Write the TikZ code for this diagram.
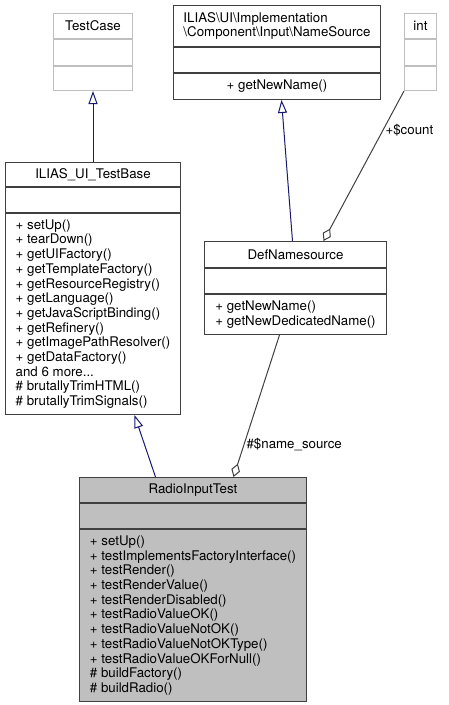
\documentclass[tikz,border=0pt]{standalone}
\usepackage{fontspec}
\setmainfont{TeX Gyre Heros}
\usetikzlibrary{positioning,arrows.meta}
\definecolor{edgegray}{HTML}{404040}
\definecolor{boxgray}{HTML}{BFBFBF}
\definecolor{inhblue}{HTML}{191970}
\tikzset{
  part/.style={draw=edgegray, line width=1pt, inner sep=0pt, minimum width=#1, align=left},
  faint/.style={draw=boxgray},
  inh/.style={draw=inhblue, line width=1pt, -{Triangle[fill=white, length=13pt, width=9pt]}},
  agg/.style={draw=edgegray, line width=1pt, {Diamond[fill=white, length=14pt, width=9pt]}-},
  lbl/.style={inner sep=2pt, anchor=west}
}
\begin{document}
\begin{tikzpicture}[x=1pt, y=-1pt, font=\fontsize{13.3}{14.7}\selectfont]
  \useasboundingbox (0,0) rectangle (448,705);
  % TestCase
  \node[part=79pt, faint, minimum height=25pt, anchor=north west] (tcTitle) at (53,13) {TestCase};
  \node[part=79pt, faint, minimum height=26pt, below=0pt of tcTitle] (tcAttr) {};
  \node[part=79pt, faint, minimum height=24pt, below=0pt of tcAttr] (tcMeth) {};
  % NameSource
  \node[part=207pt, minimum height=41pt, anchor=north west] (nsTitle) at (173,5)
    {ILIAS\textbackslash UI\textbackslash Implementation\\\textbackslash Component\textbackslash Input\textbackslash NameSource};
  \node[part=207pt, minimum height=25pt, below=0pt of nsTitle] (nsAttr) {};
  \node[part=207pt, minimum height=26pt, below=0pt of nsAttr] (nsMeth) {+ getNewName()};
  % int
  \node[part=32pt, faint, minimum height=25pt, anchor=north west] (intTitle) at (404,13) {int};
  \node[part=32pt, faint, minimum height=26pt, below=0pt of intTitle] (intAttr) {};
  \node[part=32pt, faint, minimum height=24pt, below=0pt of intAttr] (intMeth) {};
  % ILIAS_UI_TestBase
  \node[part=175pt, minimum height=24pt, anchor=north west] (tbTitle) at (5,162) {ILIAS\_UI\_TestBase};
  \node[part=175pt, minimum height=25pt, below=0pt of tbTitle] (tbAttr) {};
  \node[part=175pt, minimum height=201pt, below=0pt of tbAttr] (tbMeth)
    {+ setUp()\\+ tearDown()\\+ getUIFactory()\\+ getTemplateFactory()\\
     + getResourceRegistry()\\+ getLanguage()\\+ getJavaScriptBinding()\\
     + getRefinery()\\+ getImagePathResolver()\\+ getDataFactory()\\
     and 6 more...\\\# brutallyTrimHTML()\\\# brutallyTrimSignals()};
  % DefNamesource
  \node[part=182pt, minimum height=26pt, anchor=north west] (dnTitle) at (204,241) {DefNamesource};
  \node[part=182pt, minimum height=25pt, below=0pt of dnTitle] (dnAttr) {};
  \node[part=182pt, minimum height=40pt, below=0pt of dnAttr] (dnMeth)
    {+ getNewName()\\+ getNewDedicatedName()};
  % RadioInputTest
  \node[part=227pt, fill=boxgray, minimum height=25pt, anchor=north west] (rtTitle) at (79,477) {RadioInputTest};
  \node[part=227pt, fill=boxgray, minimum height=25pt, below=0pt of rtTitle] (rtAttr) {};
  \node[part=227pt, fill=boxgray, minimum height=172pt, below=0pt of rtAttr] (rtMeth)
    {+ setUp()\\+ testImplementsFactoryInterface()\\+ testRender()\\
     + testRenderValue()\\+ testRenderDisabled()\\+ testRadioValueOK()\\
     + testRadioValueNotOK()\\+ testRadioValueNotOKType()\\
     + testRadioValueOKForNull()\\\# buildFactory()\\\# buildRadio()};
  % edges
  \draw[inh] (tbTitle.north) -- (tcMeth.south);
  \draw[inh] ([xshift=-3pt]dnTitle.north) -- ([xshift=4.5pt]nsMeth.south);
  \draw[inh] ([xshift=-37.5pt]rtTitle.north) -- ([xshift=41.5pt]tbMeth.south);
  \draw[agg] ([xshift=28pt]dnTitle.north) -- (intMeth.south west)
    node[lbl, pos=0.74] (countLbl) {+\$count};
  \draw[agg] ([xshift=40.5pt]rtTitle.north) -- ([xshift=-16pt]dnMeth.south)
    node[lbl, pos=0.23] (srcLbl) {\#\$name\_source};
\end{tikzpicture}
\end{document}
